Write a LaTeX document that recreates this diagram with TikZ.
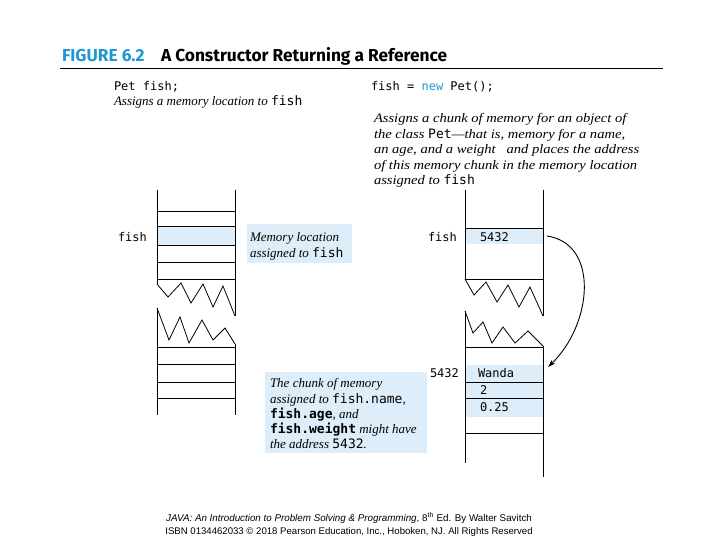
\documentclass[tikz,border=0pt]{standalone}
\usepackage{fontspec}
\setmainfont{Liberation Serif}
\setmonofont{DejaVu Sans Mono}
\newfontfamily\titlefont{Fira Sans}
\newfontfamily\footfont{Liberation Sans}
\newfontfamily\widefont[FakeStretch=1.12,Ligatures=TeX]{Liberation Serif}
\usetikzlibrary{arrows.meta}
\definecolor{hlblue}{RGB}{221,238,250}
\definecolor{figblue}{RGB}{32,150,210}
\tikzset{
  memline/.style={line width=0.8pt, black},
  hl/.style={fill=hlblue, draw=none},
  lbl/.style={anchor=base west, inner sep=0pt, outer sep=0pt},
  code/.style={lbl, font=\fontsize{12}{14}\selectfont\ttfamily},
  desc/.style={lbl, font=\fontsize{13}{15.5}\selectfont\itshape},
  widedesc/.style={lbl, font=\fontsize{13}{15.5}\selectfont\widefont\itshape},
  ptr/.style={line width=0.9pt, -{Stealth[length=8pt,width=5pt]}}
}
\newcommand{\cd}[1]{{\upshape\ttfamily #1}}
\begin{document}
\begin{tikzpicture}[x=1pt,y=-1pt]
\useasboundingbox (0,0) rectangle (720,540);
% title
\node[lbl, font=\fontsize{17.3}{19}\selectfont\titlefont\bfseries, text=figblue] (fig) at (62,62) {FIGURE 6.2};
\node[lbl, font=\fontsize{17.3}{19}\selectfont\titlefont\bfseries] (title) at (161,62) {A Constructor Returning a Reference};
\draw[line width=0.8pt] (60,68) -- (663,68);
% top texts
\node[code] (decl) at (114,91) {Pet fish;};
\node[desc] (decldesc) at (114,106) {Assigns a memory location to \cd{fish}};
\node[code] (assign) at (371,91) {fish = {\color{figblue}new} Pet();};
\node[widedesc] (d1) at (374,123) {Assigns a chunk of memory for an object of};
\node[widedesc] (d2) at (374,139) {the class \cd{Pet}\textemdash that is, memory for a name,};
\node[widedesc] (d3) at (374,154) {an age, and a weight\ \ \ and places the address};
\node[widedesc] (d4) at (374,170) {of this memory chunk in the memory location};
\node[widedesc] (d5) at (374,185) {assigned to \cd{fish}};
% ---------- left memory column
\fill[hlblue] (157,226) rectangle (235,245);
\draw[memline] (157,190) -- (157,284);
\draw[memline] (235,190) -- (235,316);
\foreach \y in {211,226,245,262,279} \draw[memline] (157,\y) -- (235,\y);
\draw[memline] (157,284) -- (168,297) -- (181,283) -- (191,303) -- (203,284) -- (213,307) -- (223,286) -- (235,316);
\draw[memline] (157,308) -- (169,340) -- (180,317) -- (189,343) -- (202,320) -- (213,340) -- (225,328) -- (235,344);
\draw[memline] (157,308) -- (157,415);
\draw[memline] (235,344) -- (235,415);
\foreach \y in {347,364,382,398} \draw[memline] (157,\y) -- (235,\y);
\node[code] (lfish) at (118,241) {fish};
% memory location note
\node[hl, minimum width=105pt, minimum height=39pt, anchor=north west, inner sep=0pt] (locbox) at (247,224) {};
\node[desc] (loc1) at (250,241) {Memory location};
\node[desc] (loc2) at (250,257) {assigned to \cd{fish}};
% ---------- right memory column
\fill[hlblue] (465,228) rectangle (543,244);
\fill[hlblue] (465,365) rectangle (543,417);
\draw[memline] (465,190) -- (465,279);
\draw[memline] (543,190) -- (543,316);
\foreach \y in {228,279} \draw[memline] (465,\y) -- (543,\y);
\draw[memline] (465,279) -- (474,295) -- (486,282) -- (497,302) -- (508,285) -- (519,307) -- (530,287) -- (543,316);
\draw[memline] (465,311) -- (473,333) -- (483,322) -- (492,343) -- (503,327) -- (515,343) -- (528,331) -- (543,346);
\draw[memline] (465,311) -- (465,463);
\draw[memline] (543,346) -- (543,477);
\foreach \y in {347,382,398,433} \draw[memline] (465,\y) -- (543,\y);
\node[code] (rfish) at (428,241) {fish};
\node[code] (refval) at (480,241) {5432};
\node[code] (addr) at (430,377) {5432};
\node[code] (wanda) at (478,377) {Wanda};
\node[code] (age) at (480,394) {2};
\node[code] (weight) at (480,411) {0.25};
% pointer arrow
\coordinate (ptrstart) at (547,236);
\coordinate (ptrend) at (548,367);
\draw[ptr] (ptrstart) .. controls (600,244) and (592,325) .. (ptrend);
% chunk note
\node[hl, minimum width=162pt, minimum height=81pt, anchor=north west, inner sep=0pt] (chunkbox) at (265,372) {};
\node[desc] (c1) at (270,387) {The chunk of memory};
\node[desc] (c2) at (270,403) {assigned to \cd{fish.name},};
\node[desc] (c3) at (270,418) {\cd{\bfseries fish.age}, and};
\node[desc] (c4) at (270,433) {\cd{\bfseries fish.weight} might have};
\node[desc] (c5) at (270,448) {the address \cd{5432}.};
% footer
\node[anchor=base, inner sep=0pt, font=\fontsize{9.8}{11}\selectfont\footfont] (foot1) at (349,521) {\itshape JAVA: An Introduction to Problem Solving \& Programming\upshape, 8\textsuperscript{th} Ed. By Walter Savitch};
\node[anchor=base, inner sep=0pt, font=\fontsize{9.6}{11}\selectfont\footfont] (foot2) at (349,534) {ISBN 0134462033 © 2018 Pearson Education, Inc., Hoboken, NJ. All Rights Reserved};
\end{tikzpicture}
\end{document}
